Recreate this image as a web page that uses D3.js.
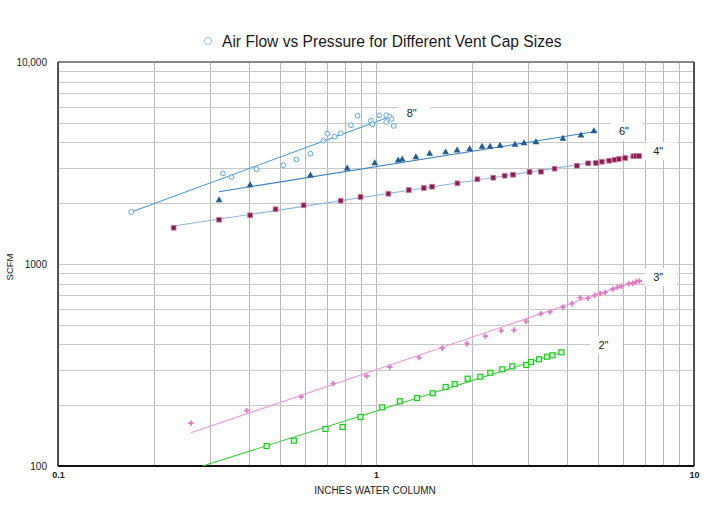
<!DOCTYPE html>
<html>

<head>
  <meta charset="utf8">
  <script src="https://d3js.org/d3.v7.min.js"></script>
  <style>
    body {
      margin: 0;
      background: #fff;
    }

    svg text {
      font-family: "Liberation Sans", Arial, Helvetica, sans-serif;
      fill: #222;
    }

    .grid line {
      stroke: #b9b9b9;
      stroke-width: 1;
    }

    .size-label {
      font-size: 11px;
    }
  </style>
</head>

<body>
  <svg id="chart" width="715" height="513"></svg>

  <script>
    // axis ticks
    var xTickValues = [0.1, 1, 10];
    var xTickLabels = ['0.1', '1', '10'];
    var yTickValues = [100, 1000, 10000];
    var yTickLabels = ['100', '1000', '10,000'];

    // 8" vent cap
    var size8X = [0.170, 0.330, 0.351, 0.421, 0.511, 0.562, 0.622, 0.683, 0.703, 0.741, 0.774,
      0.834, 0.875, 0.963, 0.975, 1.023, 1.077, 1.077, 1.105, 1.119, 1.137];
    var size8Y = [1809, 2812, 2688, 2943, 3081, 3298, 3516, 4077, 4416, 4268, 4436,
      4861, 5420, 5122, 4917, 5446, 5446, 5047, 5361, 5222, 4822];
    var fit8X = [0.170, 1.12];
    var fit8Y = [1809, 5403];

    // 6"
    var size6X = [0.321, 0.402, 0.622, 0.812, 0.991, 1.174, 1.209, 1.334, 1.475, 1.656, 1.799,
      1.970, 2.155, 2.284, 2.455, 2.735, 2.920, 3.184, 3.870, 4.410, 4.843];
    var size6Y = [2058, 2442, 2727, 2953, 3137, 3236, 3273, 3360, 3493, 3550, 3627,
      3681, 3783, 3783, 3827, 3870, 3941, 3987, 4144, 4303, 4518];
    var fit6X = [0.321, 4.95];
    var fit6Y = [2280, 4538];

    // 4"
    var size4X = [0.231, 0.321, 0.402, 0.483, 0.592, 0.774, 0.894, 1.094, 1.268, 1.413, 1.501,
      1.803, 2.084, 2.338, 2.538, 2.697, 3.040, 3.302, 3.643, 4.283, 4.647, 4.913, 5.131,
      5.409, 5.621, 5.802, 6.072, 6.446, 6.573, 6.717];
    var size4Y = [1512, 1657, 1742, 1866, 1953, 2058, 2146, 2228, 2324, 2378, 2414,
      2508, 2626, 2674, 2736, 2767, 2854, 2864, 2964, 3066, 3151, 3162, 3209,
      3246, 3283, 3310, 3348, 3414, 3425, 3425];
    var fit4X = [0.231, 6.77];
    var fit4Y = [1542, 3452];

    // 3"
    var size3X = [0.262, 0.392, 0.582, 0.734, 0.934, 1.105, 1.367, 1.614, 1.933, 2.207, 2.477,
      2.716, 2.962, 3.302, 3.524, 3.870, 4.130, 4.386, 4.638, 4.877, 5.069, 5.255, 5.557,
      5.743, 5.912, 6.237, 6.420, 6.573, 6.733];
    var size3Y = [163, 188, 220, 256, 279, 309, 344, 383, 403, 439, 468,
      471, 520, 568, 579, 611, 636, 681, 677, 700, 713, 724, 752,
      767, 776, 799, 803, 815, 824];
    var fit3X = [0.262, 6.77];
    var fit3Y = [146, 834];

    // 2"
    var size2X = [0.453, 0.552, 0.694, 0.785, 0.894, 1.046, 1.188, 1.347, 1.508, 1.656, 1.768,
      1.942, 2.129, 2.288, 2.496, 2.683, 2.968, 3.071, 3.254, 3.447, 3.590, 3.831];
    var size2Y = [125.6, 133.5, 152.5, 156.0, 174.8, 195.2, 209.1, 217.1, 229.1, 246.1, 254.7,
      270.5, 276.7, 289.6, 301.0, 311.5, 316.2, 327.3, 337.5, 347.6, 353.2, 365.5];
    var fit2X = [0.285, 3.887];
    var fit2Y = [100, 368];

    var seriesNames = ['8"', '6"', '4"', '3"', '2"'];

    var chart = d3.select('#chart');
    var plotLeft = 58, plotRight = 694, plotTop = 62, plotBottom = 466;

    var x = d3.scaleLog().domain([0.1, 10]).range([plotLeft, plotRight]);
    var y = d3.scaleLog().domain([100, 10000]).range([plotBottom, plotTop]);

    // grid
    var grid = chart.append('g').attr('class', 'grid');
    grid.selectAll('.vline')
      .data(x.ticks())
      .enter().append('line')
      .attr('x1', (d) => Math.round(x(d)) + 0.5)
      .attr('x2', (d) => Math.round(x(d)) + 0.5)
      .attr('y1', plotTop)
      .attr('y2', plotBottom);
    grid.selectAll('.hline')
      .data(y.ticks())
      .enter().append('line')
      .attr('y1', (d) => Math.round(y(d)) + 0.5)
      .attr('y2', (d) => Math.round(y(d)) + 0.5)
      .attr('x1', plotLeft)
      .attr('x2', plotRight)
      .style('stroke', '#c8c8c8');

    // frame
    chart.append('line').attr('x1', plotLeft).attr('x2', plotRight).attr('y1', plotTop).attr('y2', plotTop)
      .attr('stroke', '#888').attr('stroke-width', 2);
    chart.append('line').attr('x1', plotRight).attr('x2', plotRight).attr('y1', plotTop).attr('y2', plotBottom)
      .attr('stroke', '#222').attr('stroke-width', 1.5);
    chart.append('line').attr('x1', plotLeft).attr('x2', plotLeft).attr('y1', plotTop).attr('y2', plotBottom)
      .attr('stroke', '#222').attr('stroke-width', 1.5);
    chart.append('line').attr('x1', plotLeft).attr('x2', plotRight).attr('y1', plotBottom).attr('y2', plotBottom)
      .attr('stroke', '#111').attr('stroke-width', 2);

    // axes (labels only)
    var xAxis = chart.append('g')
      .attr('transform', 'translate(0,' + plotBottom + ')')
      .call(d3.axisBottom(x).tickValues(xTickValues)
        .tickFormat((d, i) => xTickLabels[i]).tickSize(0).tickPadding(6));
    xAxis.select('.domain').remove();
    xAxis.selectAll('text').style('font-size', '9px').style('font-weight', 'bold').attr('fill', '#222');

    var yAxis = chart.append('g')
      .attr('transform', 'translate(' + plotLeft + ',0)')
      .call(d3.axisLeft(y).tickValues(yTickValues)
        .tickFormat((d, i) => yTickLabels[i]).tickSize(0).tickPadding(11));
    yAxis.select('.domain').remove();
    yAxis.selectAll('text').style('font-size', '10px').attr('fill', '#222');

    chart.append('text')
      .attr('x', (plotLeft + plotRight) / 2 - 1)
      .attr('y', 494)
      .attr('text-anchor', 'middle')
      .style('font-size', '10px')
      .text('INCHES WATER COLUMN');

    chart.append('text')
      .attr('transform', 'translate(13,267) rotate(-90)')
      .attr('text-anchor', 'middle')
      .style('font-size', '9.5px')
      .text('SCFM');

    // title with legend marker
    chart.append('circle')
      .attr('cx', 208).attr('cy', 41).attr('r', 3.5)
      .attr('fill', 'none').attr('stroke', '#8cc0e6').attr('stroke-width', 1);
    chart.append('text')
      .attr('x', 222).attr('y', 47)
      .style('font-size', '15.6px')
      .style('fill', '#1a1a1a')
      .text('Air Flow vs Pressure for Different Vent Cap Sizes');

    var series = [
      { xs: size8X, ys: size8Y, fx: fit8X, fy: fit8Y, line: '#4b9ad6', mark: 'circle', color: '#5aa8e0', lab: [15, -3] },
      { xs: size6X, ys: size6Y, fx: fit6X, fy: fit6Y, line: '#3f7fbd', mark: 'triangle', color: '#1f5d92', lab: [22, 0] },
      { xs: size4X, ys: size4Y, fx: fit4X, fy: fit4Y, line: '#8fb8dc', mark: 'square', color: '#8a1c52', lab: [13, -4] },
      { xs: size3X, ys: size3Y, fx: fit3X, fy: fit3Y, line: '#ec98d6', mark: 'cross', color: '#e27ac8', lab: [13, -3] },
      { xs: size2X, ys: size2Y, fx: fit2X, fy: fit2Y, line: '#3ccc3c', mark: 'open-square', color: '#1fc81f', lab: [35, -7] }
    ];

    var line = d3.line().x((d) => x(d[0])).y((d) => y(d[1]));

    series.forEach(function (s, k) {
      var g = chart.append('g');
      g.append('path')
        .datum(d3.zip(s.fx, s.fy))
        .attr('d', line)
        .attr('fill', 'none')
        .attr('stroke', s.line)
        .attr('stroke-width', 1.1);

      var pts = d3.zip(s.xs, s.ys);
      if (s.mark === 'circle') {
        g.selectAll('circle').data(pts).enter().append('circle')
          .attr('cx', (d) => x(d[0])).attr('cy', (d) => y(d[1])).attr('r', 2.4)
          .attr('fill', '#fff').attr('stroke', s.color).attr('stroke-width', 1);
      } else if (s.mark === 'triangle') {
        g.selectAll('path.m').data(pts).enter().append('path').attr('class', 'm')
          .attr('d', d3.symbol(d3.symbolTriangle, 20))
          .attr('transform', (d) => 'translate(' + x(d[0]) + ',' + (y(d[1]) - 0.5) + ')')
          .attr('fill', s.color);
      } else if (s.mark === 'square') {
        g.selectAll('rect').data(pts).enter().append('rect')
          .attr('x', (d) => x(d[0]) - 2.4).attr('y', (d) => y(d[1]) - 2.4)
          .attr('width', 4.8).attr('height', 4.8)
          .attr('fill', s.color).attr('stroke', '#c77aa2').attr('stroke-width', 0.8);
      } else if (s.mark === 'cross') {
        g.selectAll('path.m').data(pts).enter().append('path').attr('class', 'm')
          .attr('d', d3.symbol(d3.symbolCross, 16))
          .attr('transform', (d) => 'translate(' + x(d[0]) + ',' + y(d[1]) + ')')
          .attr('fill', s.color);
      } else {
        g.selectAll('rect').data(pts).enter().append('rect')
          .attr('x', (d) => x(d[0]) - 2.5).attr('y', (d) => y(d[1]) - 2.5)
          .attr('width', 5).attr('height', 5)
          .attr('fill', '#d6fad6').attr('stroke', s.color).attr('stroke-width', 1.2);
      }

      // size label on a white box at the end of the fit line
      var lx = x(s.fx[1]) + s.lab[0];
      var ly = y(s.fy[1]) + s.lab[1];
      g.append('rect')
        .attr('x', lx - 8).attr('y', ly - 9)
        .attr('width', 32).attr('height', 18)
        .attr('fill', '#fff');
      g.append('text')
        .attr('class', 'size-label')
        .attr('x', lx).attr('y', ly + 4)
        .text(seriesNames[k]);
    });
  </script>
</body>

</html>
